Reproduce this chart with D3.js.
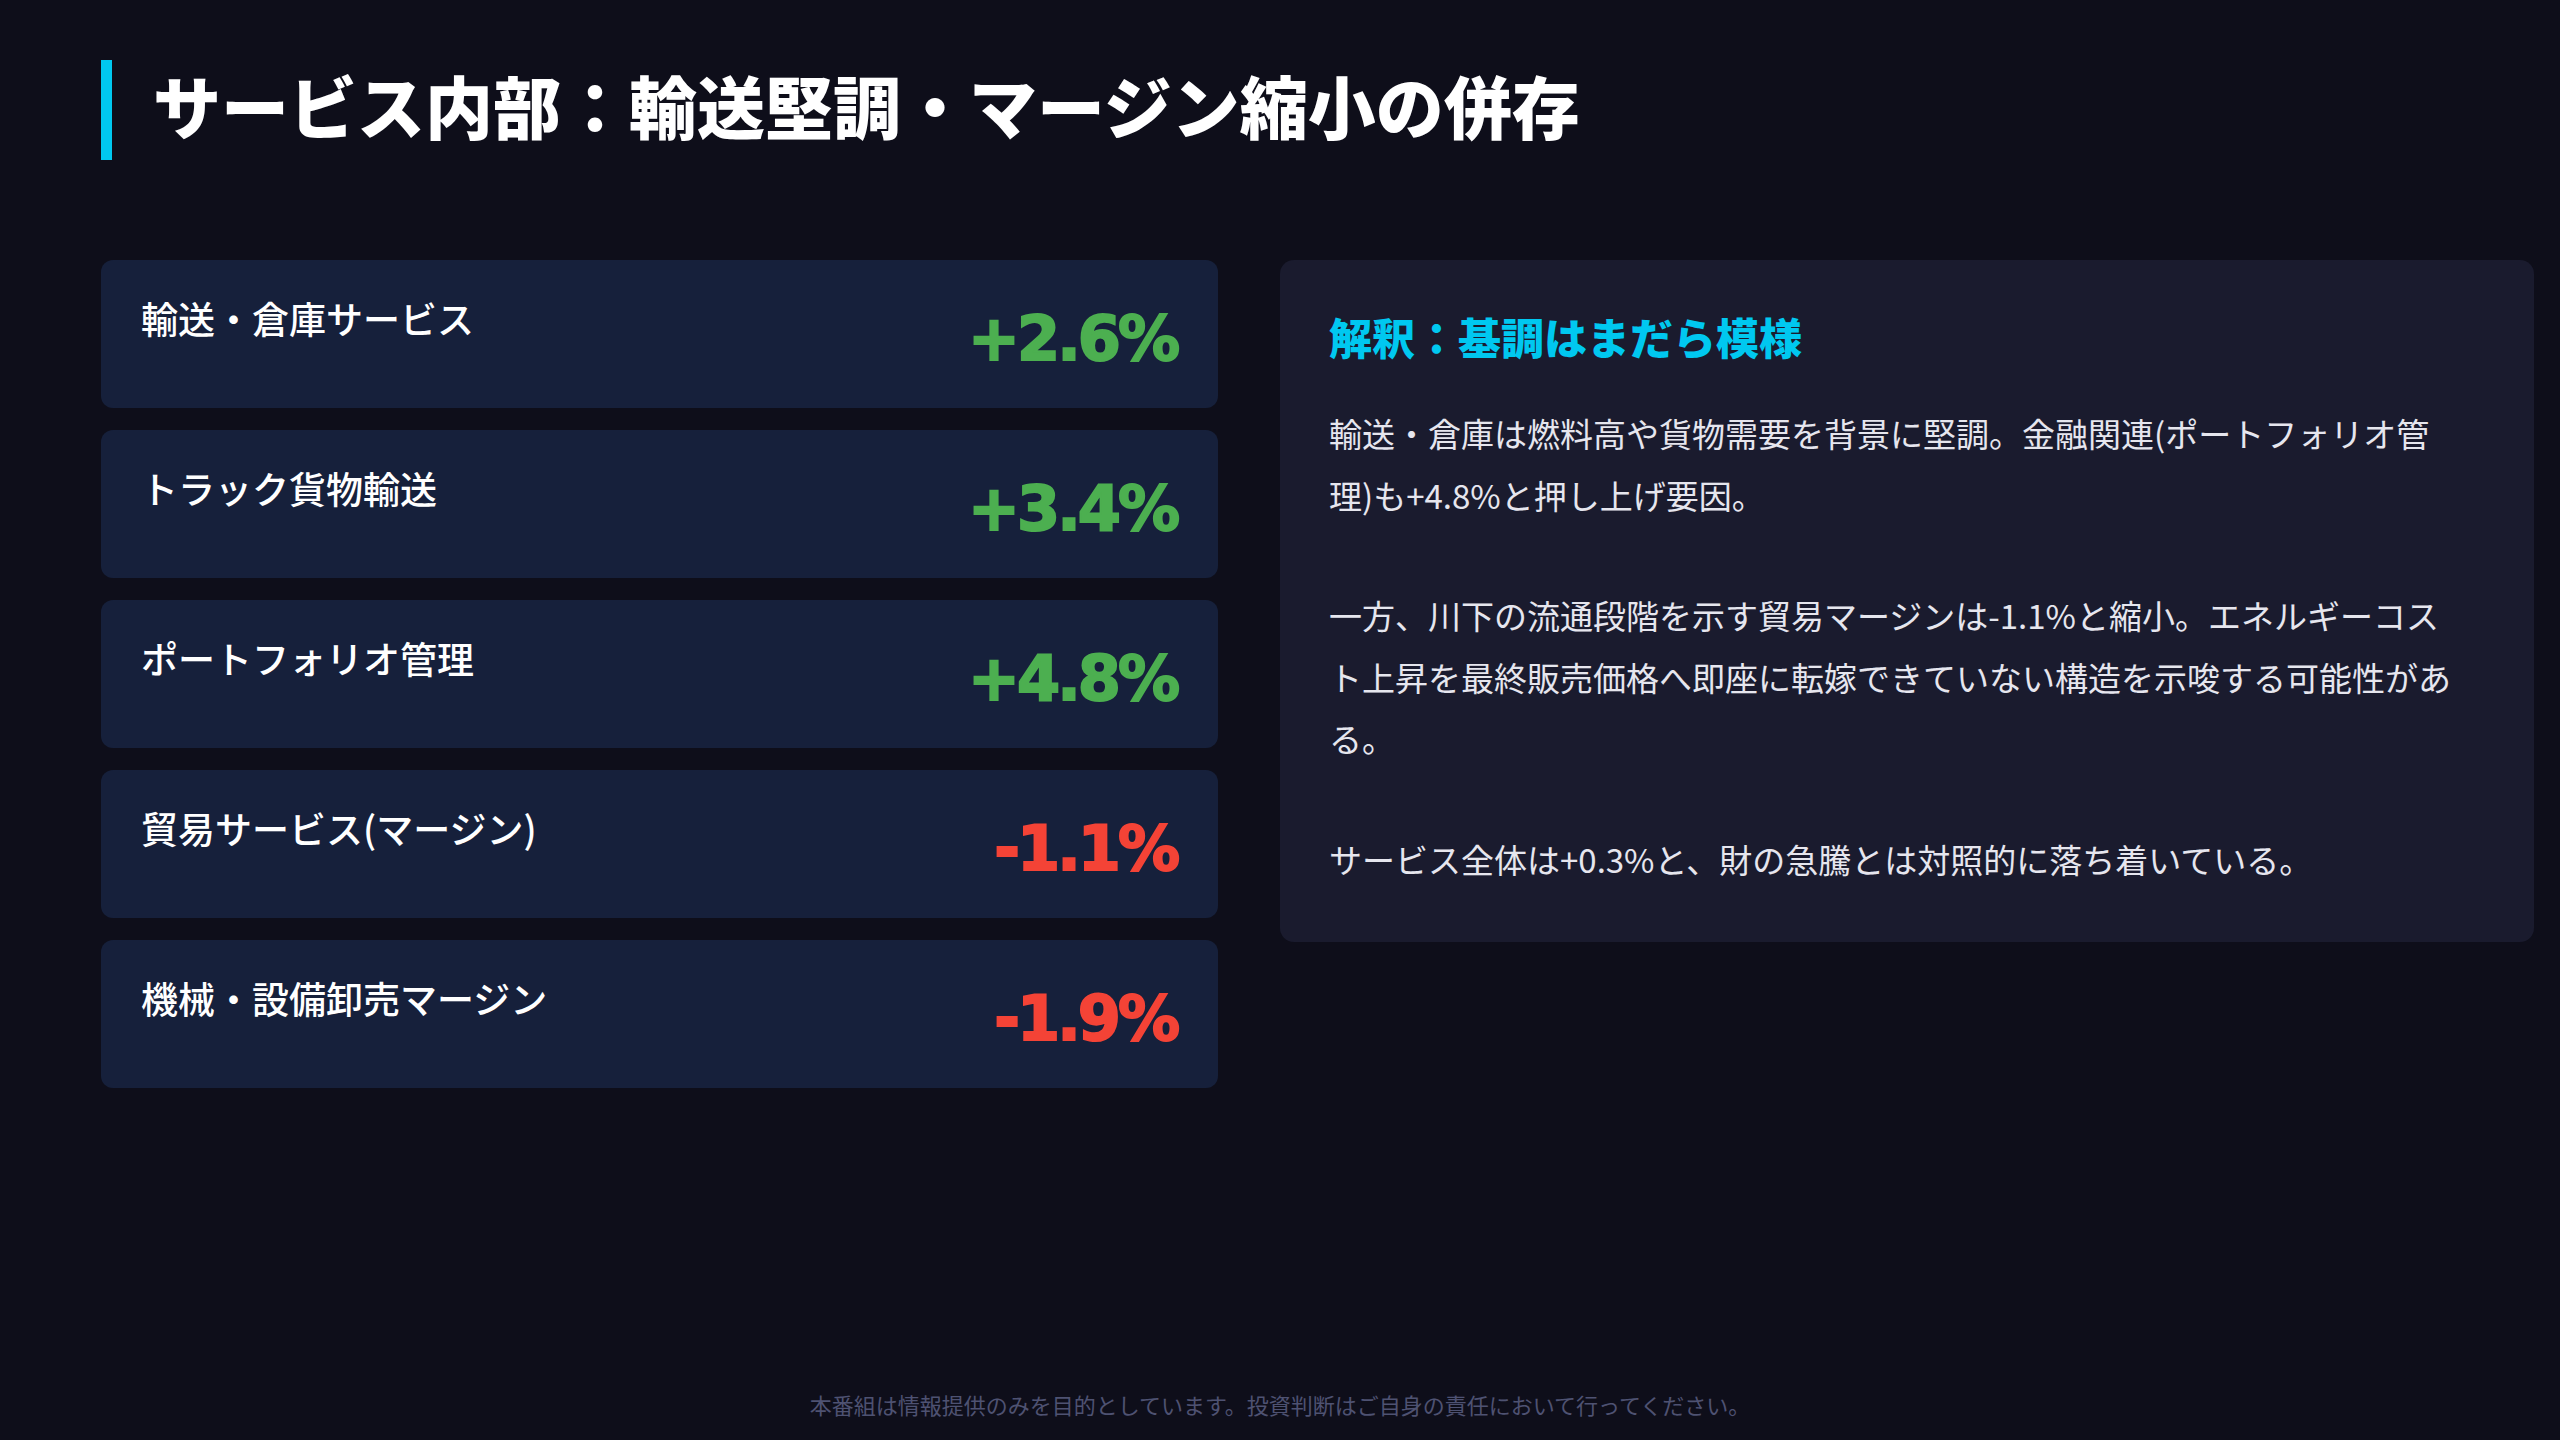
<!DOCTYPE html>
<html><head><meta charset="utf-8">
<script src="https://cdn.jsdelivr.net/npm/d3@7"></script>
<style>body{margin:0;background:#0e0e1a;}svg{display:block}</style>
</head><body>
<script>
const categories = ["輸送・倉庫サービス","トラック貨物輸送","ポートフォリオ管理","貿易サービス(マージン)","機械・設備卸売マージン"];
const values = [2.6, 3.4, 4.8, -1.1, -1.9];
const titleText = "サービス内部：輸送堅調・マージン縮小の併存";
const headingText = "解釈：基調はまだら模様";
const bodyLines = [
  ["輸送・倉庫は燃料高や貨物需要を背景に堅調。金融関連(ポートフォリオ管","理)も+4.8%と押し上げ要因。"],
  ["一方、川下の流通段階を示す貿易マージンは-1.1%と縮小。エネルギーコス","ト上昇を最終販売価格へ即座に転嫁できていない構造を示唆する可能性があ","る。"],
  ["サービス全体は+0.3%と、財の急騰とは対照的に落ち着いている。"]
];
const footerText = "本番組は情報提供のみを目的としています。投資判断はご自身の責任において行ってください。";

const W=2560,H=1440,F="'Noto Sans CJK JP','Noto Sans',sans-serif";
const svg=d3.select("body").append("svg").attr("width",W).attr("height",H);
svg.append("rect").attr("width",W).attr("height",H).attr("fill","#0e0e1a");
svg.append("rect").attr("x",101).attr("y",60).attr("width",11).attr("height",100).attr("fill","#00c8f0");
svg.append("text").attr("x",153).attr("y",134).attr("font-family",F).attr("font-weight",900).attr("font-size",68).attr("fill","#fff").text(titleText);

const y=d3.scaleBand().domain(categories).range([260,1088]).paddingInner(22/170).paddingOuter(0);
const g=svg.append("g");
const card=g.selectAll("g").data(categories).join("g").attr("transform",d=>`translate(101,${y(d)})`);
card.append("rect").attr("width",1117).attr("height",y.bandwidth()).attr("rx",12).attr("fill","#16203b");
card.append("text").attr("x",40).attr("y",74).attr("font-family",F).attr("font-weight",500).attr("font-size",37).attr("fill","#fff").text(d=>d);
const fmt=v=>(v>0?"+":"")+v.toFixed(1)+"%";
card.append("text").attr("x",1076).attr("y",100).attr("text-anchor","end").attr("font-family","'DejaVu Sans',sans-serif").attr("font-weight",700).attr("font-size",62).attr("letter-spacing",-3)
  .attr("stroke",(d,i)=>values[i]>=0?"#4caf50":"#f44336").attr("stroke-width",2)
  .attr("fill",(d,i)=>values[i]>=0?"#4caf50":"#f44336").text((d,i)=>fmt(values[i]));

svg.append("rect").attr("x",1280).attr("y",260).attr("width",1254).attr("height",682).attr("rx",14).attr("fill","#1a1b2e");
svg.append("text").attr("x",1329).attr("y",355).attr("font-family",F).attr("font-weight",900).attr("font-size",43).attr("fill","#00c8f0").text(headingText);
let ly=447;
bodyLines.forEach(p=>{p.forEach(l=>{svg.append("text").attr("x",1329).attr("y",ly).attr("font-family",F).attr("font-size",33).attr("fill","#e6e6ee").text(l);ly+=61.5;});ly+=59;});
svg.append("text").attr("x",1280).attr("y",1414).attr("text-anchor","middle").attr("font-family",F).attr("font-size",22).attr("fill","#4e5272").text(footerText);
</script></body></html>
